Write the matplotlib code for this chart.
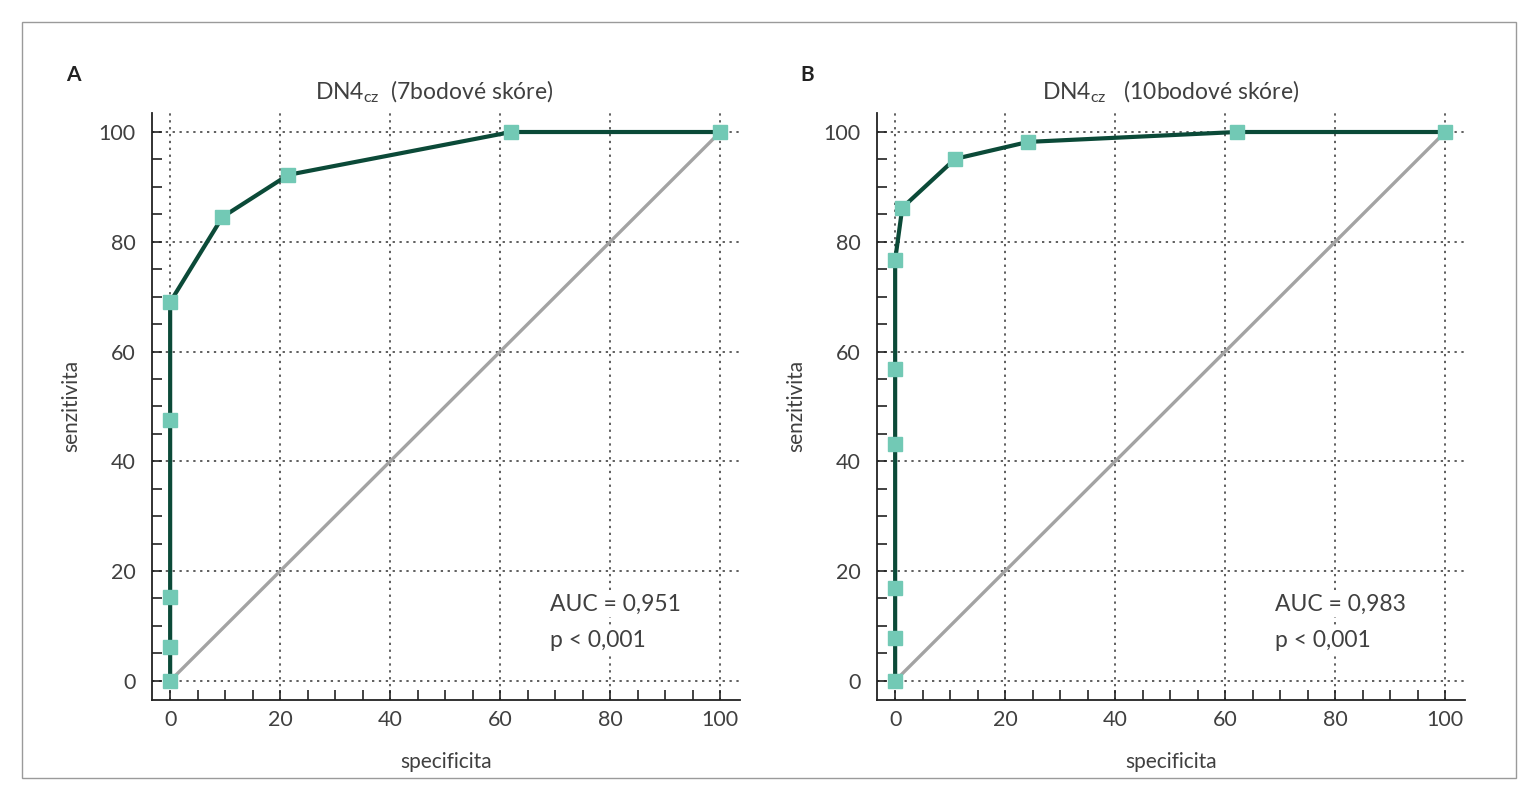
import matplotlib.pyplot as plt
from matplotlib.patches import Rectangle
from matplotlib.ticker import MultipleLocator

plt.rcParams['font.family'] = ['Lato', 'Open Sans', 'DejaVu Sans']
plt.rcParams['mathtext.default'] = 'regular'

# panel A - DN4cz 7 point score
a_x = [0, 0, 0, 0, 0, 9.5, 21.5, 62, 100]
a_y = [0, 6.2, 15.3, 47.5, 69, 84.5, 92.2, 100, 100]
a_auc = "AUC = 0,951"

# panel B - DN4cz 10 point score
b_x = [0, 0, 0, 0, 0, 0, 1.3, 10.9, 24.2, 62.1, 100]
b_y = [0, 7.8, 16.9, 43.1, 56.9, 76.7, 86.2, 95.1, 98.2, 100, 100]
b_auc = "AUC = 0,983"

p_text = "p < 0,001"
ticks = [0, 20, 40, 60, 80, 100]

line_col = "#0b4a38"
mark_col = "#72c9b5"
diag_col = "#a3a3a3"
text_col = "#404040"

fig = plt.figure(figsize=(15.38, 8), dpi=100)
fig.patches.append(Rectangle((22 / 1538, 22 / 800), 1494 / 1538, 756 / 800,
                             transform=fig.transFigure, fill=False,
                             edgecolor="#9a9a9a", linewidth=1))


def roc_panel(left, xs, ys, title, title_x, auc, letter, letter_x):
    ax = fig.add_axes([left / 1538, 0.125, 588 / 1538, 0.734])
    ax.set_xlim(-3.3, 103.6)
    ax.set_ylim(-3.5, 103.5)
    for s in ["top", "right"]:
        ax.spines[s].set_visible(False)
    for s in ["left", "bottom"]:
        ax.spines[s].set_color("#222222")
        ax.spines[s].set_linewidth(1.3)
    ax.set_xticks(ticks)
    ax.set_yticks(ticks)
    ax.xaxis.set_minor_locator(MultipleLocator(5))
    ax.yaxis.set_minor_locator(MultipleLocator(5))
    ax.tick_params(which="both", direction="in", color="#222222", width=1.2,
                   labelsize=15.5, labelcolor=text_col)
    ax.tick_params(which="major", length=7)
    ax.tick_params(which="minor", length=7)
    ax.tick_params(axis="y", pad=12)
    ax.tick_params(axis="x", pad=7)
    ax.grid(True, which="major", linestyle=(0, (1.5, 3)), color="#333333",
            linewidth=1.1)
    ax.set_axisbelow(True)

    ax.plot([0, 100], [0, 100], color=diag_col, linewidth=2.4, zorder=2)
    ax.plot(xs, ys, color=line_col, linewidth=3, zorder=3)
    ax.plot(xs, ys, linestyle="none", marker="s", markersize=10,
            color=mark_col, zorder=4)

    ax.set_xlabel("specificita", fontsize=15, color=text_col, labelpad=16)
    ax.set_ylabel("senzitivita", fontsize=15, color=text_col, labelpad=12)
    ax.text(title_x, 1.036, title, transform=ax.get_xaxis_transform(),
            fontsize=16.5, color=text_col, ha="center", va="center")

    box = dict(facecolor="white", edgecolor="none", pad=2)
    ax.text(69, 14, auc, fontsize=16.5, color=text_col, va="center", bbox=box)
    ax.text(69, 7.3, p_text, fontsize=16.5, color=text_col, va="center", bbox=box)
    fig.text(letter_x / 1538, 1 - 75 / 800, letter, fontsize=15,
             fontweight="bold", color="#222222", va="center")
    return ax


roc_panel(152, a_x, a_y, "DN4$_{cz}$  (7bodové skóre)", 48, a_auc, "A", 66)
roc_panel(877, b_x, b_y, "DN4$_{cz}$   (10bodové skóre)", 50, b_auc, "B", 800)

fig.savefig("out.png", dpi=100)
